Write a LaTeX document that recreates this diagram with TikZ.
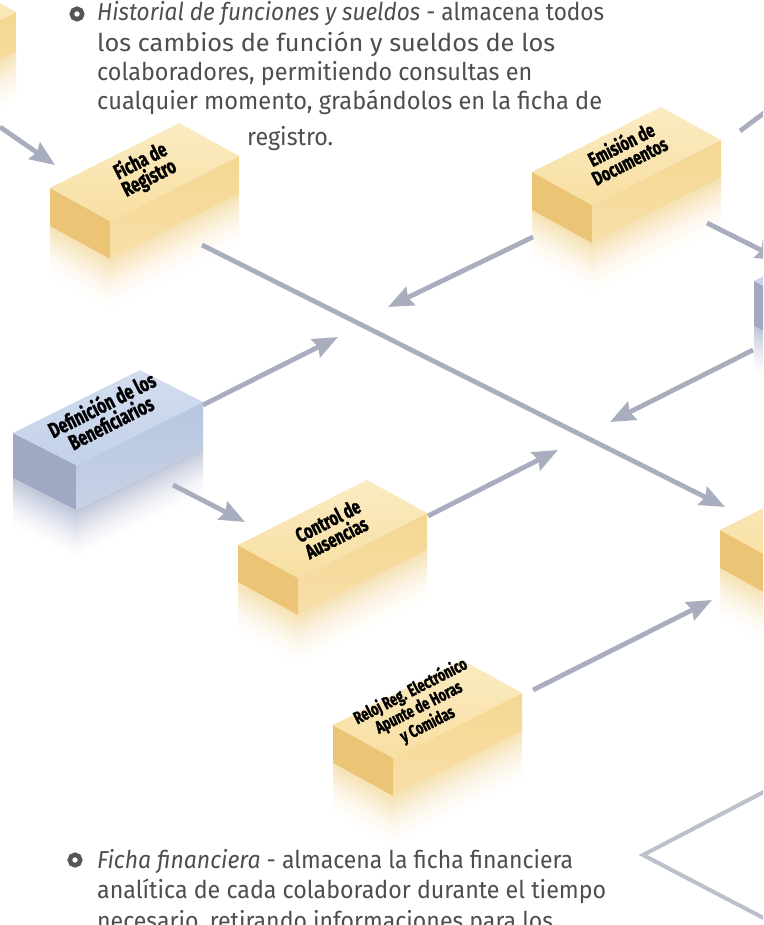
\documentclass[tikz,border=0pt]{standalone}
\usepackage{fontspec}
\setmainfont{Fira Sans}
\newfontfamily\boxfont{Fira Sans}[FakeStretch=0.72, FakeBold=1.2]
\usetikzlibrary{arrows.meta}
\definecolor{txt}{HTML}{4E4E4E}
\definecolor{bul}{HTML}{555555}
\definecolor{arr}{HTML}{A9AEBF}
\definecolor{chev}{HTML}{BCC0CC}
\definecolor{Ytop}{HTML}{F8DFA2}
\definecolor{Ytopb}{HTML}{FBEBC2}
\definecolor{Yfront}{HTML}{F5D792}
\definecolor{Yleft}{HTML}{EBC476}
\definecolor{Yrefl}{HTML}{F4DCA6}
\definecolor{Btop}{HTML}{C3D1E9}
\definecolor{Btopb}{HTML}{D2DDEF}
\definecolor{Bfront}{HTML}{B7C6E0}
\definecolor{Bleft}{HTML}{A0A9C1}
\definecolor{Brefl}{HTML}{B3BBD2}
\newsavebox\fitbox
\newcommand\fitline[2]{\sbox\fitbox{#2}\pgfmathsetmacro\fitratio{#1/\the\wd\fitbox}\scalebox{\fitratio}[1]{\usebox\fitbox}}
% #1 name, #2 #3 left corner, #4 #5 short edge, #6 #7 long edge, #8 height, #9 colour prefix
\newcommand\isobox[9]{%
\begin{scope}[shift={(#2,#3)}]
\coordinate (#1-L) at (0,0);
\coordinate (#1-F) at (#4,#5);
\coordinate (#1-R) at ({#4+#6},{#5+#7});
\coordinate (#1-B) at (#6,#7);
\foreach \i in {0,...,11}{%
  \pgfmathsetmacro\pc{80*(1-\i/12)^1.5}%
  \fill[#9refl!\pc!white] (0,{#8+\i*4}) -- (#4,{#5+#8+\i*4}) -- ({#4+#6},{#5+#7+#8+\i*4})
     -- ({#4+#6},{#5+#7+#8+(\i+1)*4+0.7}) -- (#4,{#5+#8+(\i+1)*4+0.7}) -- (0,{#8+(\i+1)*4+0.7}) -- cycle;
}
\fill[#9left] (#1-L) -- (#1-F) -- ++(0,#8) -- (0,#8) -- cycle;
\shade[top color=#9front, bottom color=#9front!80!white] (#1-F) -- (#1-R) -- ++(0,#8) -- (#4,{#5+#8}) -- cycle;
\shade[top color=#9topb, bottom color=#9top] (#1-L) -- (#1-F) -- (#1-R) -- (#1-B) -- cycle;
\end{scope}}
\tikzset{
  ptxt/.style={font=\fontsize{24.5}{29}\selectfont, text=txt, inner sep=0pt},
  bullet/.style={circle, draw=bul, line width=4.5pt, minimum size=10.5pt, inner sep=0pt},
  conn/.style={draw=arr, line width=4.8pt, -{Stealth[length=25pt,width=20pt,inset=3pt]}},
  plainconn/.style={draw=arr, line width=4.8pt},
  btxt/.style={rotate=27, align=center, text=black, inner sep=0pt},
}
\begin{document}
\begin{tikzpicture}[x=1pt,y=-1pt]
\useasboundingbox (0,0) rectangle (763,925);
\clip (0,0) rectangle (763,925);
\fill[white] (0,0) rectangle (763,925);

% boxes
\isobox{tl}{-173}{44}{60}{33}{129}{-65}{40}{Y}
\isobox{ficha}{50}{188}{60}{33}{129}{-65}{38}{Y}
\isobox{emis}{532}{172}{60}{33}{129}{-65}{38}{Y}
\isobox{ctrl}{238}{545}{60}{33}{129}{-65}{37}{Y}
\isobox{reloj}{333}{725}{60}{33}{129}{-65}{38}{Y}
\isobox{ry}{720}{530}{60}{33}{129}{-65}{38}{Y}
\isobox{defi}{13}{433}{63}{32}{127}{-63}{45}{B}
\isobox{rb}{754}{281}{63}{32}{127}{-63}{45}{B}

% box labels
\node[btxt, font=\boxfont\bfseries\fontsize{21}{19}\selectfont] (fichaT) at (145,170) {Ficha de\\Registro};
\node[btxt, font=\boxfont\bfseries\fontsize{20}{18.5}\selectfont] (emisT) at (625,152) {Emisión de\\Documentos};
\node[btxt, font=\boxfont\bfseries\fontsize{21.5}{20}\selectfont] (defiT) at (106,413) {Definición de los\\Beneficiarios};
\node[btxt, font=\boxfont\bfseries\fontsize{20.5}{19}\selectfont] (ctrlT) at (332,529) {Control de\\Ausencias};
\node[btxt, font=\boxfont\bfseries\fontsize{17.5}{16.5}\selectfont] (relojT) at (419,708) {Reloj Reg. Electrónico\\Apunte de Horas\\y Comidas};

% connector end points
\coordinate (a1s) at (0,127);   \coordinate (a1e) at (55,165);
\coordinate (a2s) at (202,245); \coordinate (a2e) at (725,507);
\coordinate (a3s) at (533,237); \coordinate (a3e) at (388,307);
\coordinate (a4s) at (707,223); \coordinate (a4e) at (781,260);
\coordinate (a5s) at (740,131); \coordinate (a5e) at (800,86);
\coordinate (a6s) at (753,350); \coordinate (a6e) at (610,422);
\coordinate (a7s) at (203,405); \coordinate (a7e) at (338,337);
\coordinate (a8s) at (173,485); \coordinate (a8e) at (245,522);
\coordinate (a9s) at (428,516); \coordinate (a9e) at (558,450);
\coordinate (a10s) at (533,690); \coordinate (a10e) at (712,600);
\coordinate (chA) at (775,786); \coordinate (chV) at (643,855); \coordinate (chB) at (775,924);

\draw[conn] (a1s) -- (a1e);
\draw[conn] (a2s) -- (a2e);
\draw[conn] (a3s) -- (a3e);
\draw[conn] (a4s) -- (a4e);
\draw[plainconn] (a5s) -- (a5e);
\draw[conn] (a6s) -- (a6e);
\draw[conn] (a7s) -- (a7e);
\draw[conn] (a8s) -- (a8e);
\draw[conn] (a9s) -- (a9e);
\draw[conn] (a10s) -- (a10e);
\draw[draw=chev, line width=4pt, line join=miter] (chA) -- (chV) -- (chB);

% top text
\node[bullet] (bul1) at (77,14) {};
\node[ptxt, anchor=base west] (t1) at (97,21) {\fitline{507}{\textit{Historial de funciones y sueldos} - almacena todos}};
\node[ptxt, anchor=base west] (t2) at (97,52) {\fitline{458}{los cambios de función y sueldos de los}};
\node[ptxt, anchor=base west] (t3) at (97,81) {\fitline{435}{colaboradores, permitiendo consultas en}};
\node[ptxt, anchor=base west] (t4) at (97,110) {\fitline{505}{cualquier momento, grabándolos en la ficha de}};
\node[ptxt, anchor=base west] (t5) at (247,146) {\fitline{86}{registro.}};

% bottom text
\node[bullet] (bul2) at (75,860) {};
\node[ptxt, anchor=base west] (u1) at (97,868) {\fitline{476}{\textit{Ficha financiera} - almacena la ficha financiera}};
\node[ptxt, anchor=base west] (u2) at (97,898) {\fitline{509}{analítica de cada colaborador durante el tiempo}};
\node[ptxt, anchor=base west] (u3) at (97,929) {\fitline{456}{necesario, retirando informaciones para los}};
\end{tikzpicture}
\end{document}
